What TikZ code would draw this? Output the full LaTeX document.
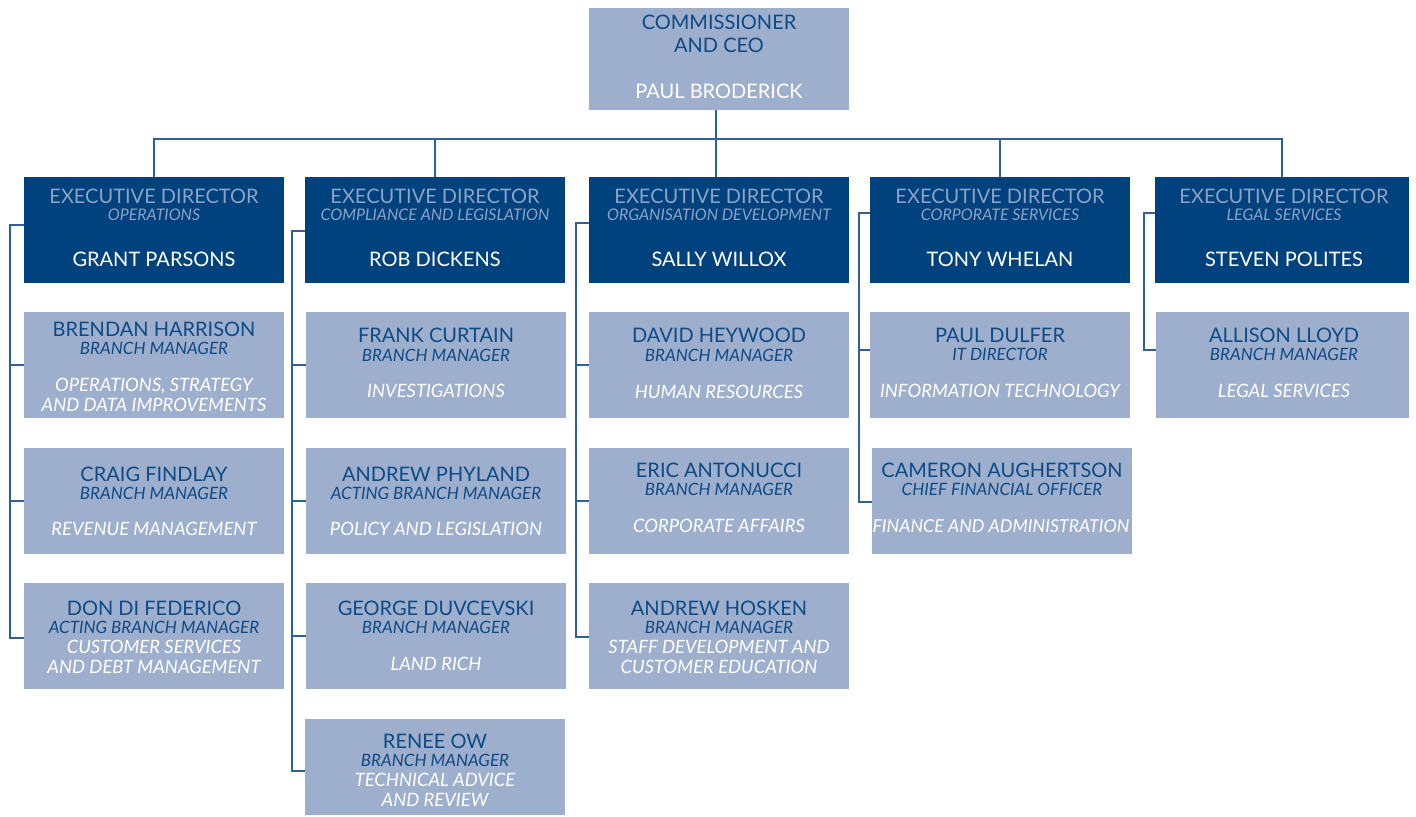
\documentclass[tikz,border=0pt]{standalone}
\usepackage{fontspec}
\setmainfont{Lato}
\usetikzlibrary{fit,calc}
\definecolor{lightbox}{HTML}{9DAFCC}
\definecolor{darkbox}{HTML}{00427D}
\definecolor{darktext}{HTML}{0E4A86}
\definecolor{paletext}{HTML}{8CA3C7}
\definecolor{linec}{HTML}{2F6198}
\begin{document}
\begin{tikzpicture}[x=0.5pt,y=-0.5pt,
 lbox/.style={fill=lightbox, inner sep=0pt, draw=none},
 dbox/.style={fill=darkbox, inner sep=0pt, draw=none},
 nm/.style={text=darktext, font=\fontsize{10}{11.5}\selectfont, inner sep=0pt, align=center},
 rl/.style={text=darktext, font=\fontsize{8.5}{9}\selectfont\itshape, inner sep=0pt},
 dp/.style={text=white, font=\fontsize{9.2}{10}\selectfont\itshape, inner sep=0pt, align=center},
 et/.style={text=paletext, font=\fontsize{10}{12}\selectfont, inner sep=0pt},
 es/.style={text=paletext, font=\fontsize{8}{9}\selectfont\itshape, inner sep=0pt},
 en/.style={text=white, font=\fontsize{10}{12}\selectfont, inner sep=0pt},
 conn/.style={draw=linec, line width=0.75pt}]
\useasboundingbox (0,0) rectangle (1416,816);

% CEO
\node[lbox, fit={(589,8)(849,110)}] (ceo) {};
\node[nm] (ceo-t) at (719,33.5) {COMMISSIONER\\AND CEO};
\node[en] (ceo-n) at (719,91) {PAUL BRODERICK};

% Executive directors
\node[dbox, fit={(24,177)(284,283)}] (grant) {};
\node[et] (grant-t) at (154,196) {EXECUTIVE DIRECTOR};
\node[es] (grant-s) at (154,215) {OPERATIONS};
\node[en] (grant-n) at (154,259) {GRANT PARSONS};

\node[dbox, fit={(305,177)(565,283)}] (rob) {};
\node[et] (rob-t) at (435,196) {EXECUTIVE DIRECTOR};
\node[es] (rob-s) at (435,215) {COMPLIANCE AND LEGISLATION};
\node[en] (rob-n) at (435,259) {ROB DICKENS};

\node[dbox, fit={(589,177)(849,283)}] (sally) {};
\node[et] (sally-t) at (719,196) {EXECUTIVE DIRECTOR};
\node[es] (sally-s) at (719,215) {ORGANISATION DEVELOPMENT};
\node[en] (sally-n) at (719,259) {SALLY WILLOX};

\node[dbox, fit={(870,177)(1130,283)}] (tony) {};
\node[et] (tony-t) at (1000,196) {EXECUTIVE DIRECTOR};
\node[es] (tony-s) at (1000,215) {CORPORATE SERVICES};
\node[en] (tony-n) at (1000,259) {TONY WHELAN};

\node[dbox, fit={(1155,177)(1409,283)}] (steven) {};
\node[et] (steven-t) at (1284,196) {EXECUTIVE DIRECTOR};
\node[es] (steven-s) at (1284,215) {LEGAL SERVICES};
\node[en] (steven-n) at (1284,259) {STEVEN POLITES};

% Column 1
\node[lbox, fit={(24,312)(284,418)}] (brendan) {};
\node[nm] (brendan-n) at (154,329) {BRENDAN HARRISON};
\node[rl] (brendan-r) at (154,348) {BRANCH MANAGER};
\node[dp] (brendan-d) at (154,395) {OPERATIONS, STRATEGY\\AND DATA IMPROVEMENTS};

\node[lbox, fit={(24,448)(284,554)}] (craig) {};
\node[nm] (craig-n) at (154,474) {CRAIG FINDLAY};
\node[rl] (craig-r) at (154,493) {BRANCH MANAGER};
\node[dp] (craig-d) at (154,529) {REVENUE MANAGEMENT};

\node[lbox, fit={(24,583)(284,689)}] (don) {};
\node[nm] (don-n) at (154,608) {DON DI FEDERICO};
\node[rl] (don-r) at (154,627) {ACTING BRANCH MANAGER};
\node[dp] (don-d) at (154,657) {CUSTOMER SERVICES\\AND DEBT MANAGEMENT};

% Column 2
\node[lbox, fit={(306,312)(566,418)}] (frank) {};
\node[nm] (frank-n) at (436,335) {FRANK CURTAIN};
\node[rl] (frank-r) at (436,355) {BRANCH MANAGER};
\node[dp] (frank-d) at (436,391) {INVESTIGATIONS};

\node[lbox, fit={(306,448)(566,554)}] (phyland) {};
\node[nm] (phyland-n) at (436,474) {ANDREW PHYLAND};
\node[rl] (phyland-r) at (436,493) {ACTING BRANCH MANAGER};
\node[dp] (phyland-d) at (436,529) {POLICY AND LEGISLATION};

\node[lbox, fit={(306,583)(566,689)}] (george) {};
\node[nm] (george-n) at (436,608) {GEORGE DUVCEVSKI};
\node[rl] (george-r) at (436,627) {BRANCH MANAGER};
\node[dp] (george-d) at (436,664) {LAND RICH};

\node[lbox, fit={(305,719)(565,815)}] (renee) {};
\node[nm] (renee-n) at (435,741) {RENEE OW};
\node[rl] (renee-r) at (435,760) {BRANCH MANAGER};
\node[dp] (renee-d) at (435,790) {TECHNICAL ADVICE\\AND REVIEW};

% Column 3
\node[lbox, fit={(589,312)(849,418)}] (david) {};
\node[nm] (david-n) at (719,335) {DAVID HEYWOOD};
\node[rl] (david-r) at (719,355) {BRANCH MANAGER};
\node[dp] (david-d) at (719,392) {HUMAN RESOURCES};

\node[lbox, fit={(589,448)(849,554)}] (eric) {};
\node[nm] (eric-n) at (719,470) {ERIC ANTONUCCI};
\node[rl] (eric-r) at (719,489) {BRANCH MANAGER};
\node[dp] (eric-d) at (719,526) {CORPORATE AFFAIRS};

\node[lbox, fit={(589,583)(849,689)}] (hosken) {};
\node[nm] (hosken-n) at (719,608) {ANDREW HOSKEN};
\node[rl] (hosken-r) at (719,627) {BRANCH MANAGER};
\node[dp] (hosken-d) at (719,657) {STAFF DEVELOPMENT AND\\CUSTOMER EDUCATION};

% Column 4
\node[lbox, fit={(870,312)(1130,418)}] (dulfer) {};
\node[nm] (dulfer-n) at (1000,335) {PAUL DULFER};
\node[rl] (dulfer-r) at (1000,354) {IT DIRECTOR};
\node[dp] (dulfer-d) at (1000,391) {INFORMATION TECHNOLOGY};

\node[lbox, fit={(872,448)(1132,554)}] (cameron) {};
\node[nm] (cameron-n) at (1002,470) {CAMERON AUGHERTSON};
\node[rl] (cameron-r) at (1002,489) {CHIEF FINANCIAL OFFICER};
\node[dp, font=\fontsize{8.9}{10}\selectfont\itshape] (cameron-d) at (1001,526) {FINANCE AND ADMINISTRATION};

% Column 5
\node[lbox, fit={(1156,312)(1409,418)}] (allison) {};
\node[nm] (allison-n) at (1284,335) {ALLISON LLOYD};
\node[rl] (allison-r) at (1284,354) {BRANCH MANAGER};
\node[dp] (allison-d) at (1284,391) {LEGAL SERVICES};

% Top connectors
\coordinate (bus) at (716,139);
\draw[conn] (ceo.south -| bus) -- (sally.north -| bus);
\draw[conn] (grant.north) -- (grant.north |- bus) -- (steven.north |- bus) -- (steven.north);
\draw[conn] (rob.north) -- (rob.north |- bus);
\draw[conn] (tony.north) -- (tony.north |- bus);

% Column 1 bracket
\coordinate (s1t) at (10,225);
\coordinate (s1b) at (10,638);
\draw[conn] (grant.west |- s1t) -- (s1t) -- (s1b) -- (don.west |- s1b);
\draw[conn] (brendan.west) -- (brendan.west -| s1t);
\draw[conn] (craig.west) -- (craig.west -| s1t);

% Column 2 bracket
\coordinate (s2t) at (292,231);
\coordinate (s2b) at (292,771);
\draw[conn] (rob.west |- s2t) -- (s2t) -- (s2b) -- (renee.west |- s2b);
\draw[conn] (frank.west) -- (frank.west -| s2t);
\draw[conn] (phyland.west) -- (phyland.west -| s2t);
\draw[conn] (george.west) -- (george.west -| s2t);

% Column 3 bracket
\coordinate (s3t) at (576,223);
\coordinate (s3b) at (576,637);
\draw[conn] (sally.west |- s3t) -- (s3t) -- (s3b) -- (hosken.west |- s3b);
\draw[conn] (david.west) -- (david.west -| s3t);
\draw[conn] (eric.west) -- (eric.west -| s3t);

% Column 4 bracket
\coordinate (s4t) at (859,213);
\coordinate (s4b) at (859,502);
\draw[conn] (tony.west |- s4t) -- (s4t) -- (s4b) -- (cameron.west |- s4b);
\draw[conn] ([yshift=7.5pt]dulfer.west) -- ([yshift=7.5pt]dulfer.west -| s4t);

% Column 5 bracket
\coordinate (s5t) at (1144,213);
\coordinate (s5b) at (1144,350);
\draw[conn] (steven.west |- s5t) -- (s5t) -- (s5b) -- (allison.west |- s5b);
\end{tikzpicture}
\end{document}
